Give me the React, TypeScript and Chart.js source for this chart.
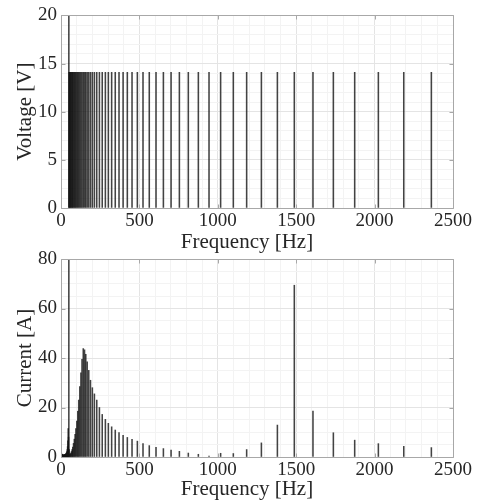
import React, { useEffect, useRef } from 'react';
import { Chart, registerables } from 'chart.js';

Chart.register(...registerables);

// ---------- data ----------
const fundamentalFreq = [50];
const fundamentalVoltage = [325];
const fundamentalCurrent = [120];

const harmonicFreq = [
  52, 55, 59, 63, 67, 71, 75, 80, 85, 90,
  95, 101, 107, 113, 120, 127, 134, 142, 150, 158,
  167, 177, 188, 200, 213, 228, 245, 263, 283, 302,
  323, 346, 370, 396, 423, 453, 487, 523, 563, 606,
  653, 702, 755, 812, 876, 944, 1018, 1099, 1184, 1278,
  1380, 1488, 1607, 1737, 1873, 2024, 2186, 2362,
];

const harmonicVoltage = [
  14.1, 14.1, 14.1, 14.1, 14.1, 14.1, 14.1, 14.1, 14.1, 14.1,
  14.1, 14.1, 14.1, 14.1, 14.1, 14.1, 14.1, 14.1, 14.1, 14.1,
  14.1, 14.1, 14.1, 14.1, 14.1, 14.1, 14.1, 14.1, 14.1, 14.1,
  14.1, 14.1, 14.1, 14.1, 14.1, 14.1, 14.1, 14.1, 14.1, 14.1,
  14.1, 14.1, 14.1, 14.1, 14.1, 14.1, 14.1, 14.1, 14.1, 14.1,
  14.1, 14.1, 14.1, 14.1, 14.1, 14.1, 14.1, 14.1,
];

const harmonicCurrent = [
  3.0, 1.0, 1.2, 1.6, 2.2, 3.0, 4.0, 5.5, 7.2, 9.2,
  11.5, 14.5, 18.5, 23.0, 28.5, 34.0, 39.5, 43.8, 43.3, 41.5,
  38.5, 35.0, 31.0, 28.0, 25.5, 23.0, 20.0, 17.2, 15.2, 13.6,
  12.2, 10.9, 9.9, 8.8, 7.9, 7.1, 6.4, 5.4, 4.6, 3.9,
  3.4, 2.8, 2.3, 1.6, 1.1, 0.4, 1.5, 1.4, 3.0, 5.7,
  12.9, 69.4, 18.6, 9.8, 6.8, 5.4, 4.3, 3.8,
];

const leakageFreq = [
  0, 2, 4, 6, 8, 10, 12, 14, 16, 18, 20, 22, 24,
  26, 28, 30, 32, 34, 36, 38, 40, 42, 44, 46, 48,
];
const leakageCurrent = [
  2.0, 1.6, 1.2, 1.0, 1.0, 0.9, 0.9, 0.8, 0.8, 0.8, 0.9, 0.9, 1.0,
  1.0, 1.1, 1.2, 1.3, 1.5, 1.8, 2.2, 3.0, 4.2, 6.5, 11.5, 8.0,
];

const freqMajorTicks = [0, 500, 1000, 1500, 2000, 2500];
const voltageMajorTicks = [0, 5, 10, 15, 20];
const currentMajorTicks = [0, 20, 40, 60, 80];

// ---------- styling ----------
const FONT = "'Liberation Serif', 'Times New Roman', serif";
const TEXT = '#262626';
const AXIS = '#a8a8a8';
const GRID_MAJOR = '#e4e4e4';
const GRID_MINOR = '#f3f3f3';
const STEM = 'rgba(20,20,20,0.8)';

const pts = (xs: number[], ys: number[]) => xs.map((x, i) => ({ x, y: ys[i] }));

interface PanelCfg {
  datasets: { x: number[]; y: number[] }[];
  yMax: number;
  yMinor: number;
  yMajor: number[];
  padTop: number;
  areaBottom: number;
  height: number;
  yTitle: string;
  xTitleBaseline: number;
}

function makeChart(canvas: HTMLCanvasElement, cfg: PanelCfg) {
  const framePlugin = {
    id: 'frame',
    afterDraw(chart: any) {
      const { ctx, chartArea: a, scales } = chart;
      const xs = scales.x;
      const ys = scales.y;
      const L = Math.round(a.left) + 0.5;
      const R = Math.round(a.right) + 0.5;
      const T = Math.round(a.top) + 0.5;
      const B = Math.round(a.bottom) + 0.5;
      ctx.save();
      ctx.strokeStyle = AXIS;
      ctx.lineWidth = 1;
      ctx.beginPath();
      ctx.moveTo(L, T); ctx.lineTo(R, T); ctx.lineTo(R, B); ctx.lineTo(L, B); ctx.closePath();
      const tl = 4;
      freqMajorTicks.forEach((v) => {
        const px = Math.round(xs.getPixelForValue(v)) + 0.5;
        ctx.moveTo(px, B); ctx.lineTo(px, B - tl);
        ctx.moveTo(px, T); ctx.lineTo(px, T + tl);
      });
      cfg.yMajor.forEach((v) => {
        const py = Math.round(ys.getPixelForValue(v)) + 0.5;
        ctx.moveTo(L, py); ctx.lineTo(L + tl, py);
        ctx.moveTo(R, py); ctx.lineTo(R - tl, py);
      });
      ctx.stroke();

      ctx.fillStyle = TEXT;
      ctx.font = `21px ${FONT}`;
      ctx.textAlign = 'center';
      ctx.textBaseline = 'alphabetic';
      ctx.fillText('Frequency [Hz]', 247, cfg.xTitleBaseline);
      ctx.translate(31, (a.top + a.bottom) / 2);
      ctx.rotate(-Math.PI / 2);
      ctx.fillText(cfg.yTitle, 0, 0);
      ctx.restore();
    },
  };

  return new Chart(canvas, {
    type: 'bar',
    data: {
      datasets: cfg.datasets.map((d) => ({
        data: pts(d.x, d.y),
        backgroundColor: STEM,
        borderWidth: 0,
        barThickness: 0.9,
        grouped: false,
      })) as any,
    },
    options: {
      responsive: false,
      animation: false,
      events: [],
      layout: { padding: { left: 0, right: 28, top: cfg.padTop, bottom: 0 } },
      plugins: { legend: { display: false }, tooltip: { enabled: false } },
      scales: {
        x: {
          type: 'linear',
          min: 0,
          max: 2500,
          offset: false,
          grid: {
            offset: false,
            drawTicks: false,
            color: (c: any) => (freqMajorTicks.includes(c.tick?.value) ? GRID_MAJOR : GRID_MINOR),
          },
          border: { display: false },
          ticks: {
            stepSize: 100,
            autoSkip: false,
            maxRotation: 0,
            padding: 2,
            color: TEXT,
            font: { family: FONT, size: 19 },
            callback: (v: any) => (freqMajorTicks.includes(Number(v)) ? String(v) : ''),
          },
          afterFit: (s: any) => {
            s.height = cfg.height - cfg.areaBottom;
          },
        },
        y: {
          type: 'linear',
          min: 0,
          max: cfg.yMax,
          grid: {
            drawTicks: false,
            color: (c: any) => (cfg.yMajor.includes(c.tick?.value) ? GRID_MAJOR : GRID_MINOR),
          },
          border: { display: false },
          ticks: {
            stepSize: cfg.yMinor,
            autoSkip: false,
            padding: 4,
            color: TEXT,
            font: { family: FONT, size: 19 },
            callback: (v: any) => (cfg.yMajor.includes(Number(v)) ? String(v) : ''),
          },
          afterFit: (s: any) => {
            s.width = 61;
          },
        },
      },
    } as any,
    plugins: [framePlugin],
  });
}

export default function App() {
  const topRef = useRef<HTMLCanvasElement>(null);
  const botRef = useRef<HTMLCanvasElement>(null);

  useEffect(() => {
    document.body.style.margin = '0';
    const c1 = makeChart(topRef.current!, {
      datasets: [
        { x: harmonicFreq, y: harmonicVoltage },
        { x: fundamentalFreq, y: fundamentalVoltage },
      ],
      yMax: 20,
      yMinor: 1,
      yMajor: voltageMajorTicks,
      padTop: 14,
      areaBottom: 208,
      height: 258,
      yTitle: 'Voltage [V]',
      xTitleBaseline: 248,
    });
    const c2 = makeChart(botRef.current!, {
      datasets: [
        { x: leakageFreq, y: leakageCurrent },
        { x: harmonicFreq, y: harmonicCurrent },
        { x: fundamentalFreq, y: fundamentalCurrent },
      ],
      yMax: 80,
      yMinor: 5,
      yMajor: currentMajorTicks,
      padTop: 19,
      areaBottom: 217,
      height: 263,
      yTitle: 'Current [A]',
      xTitleBaseline: 255,
    });
    return () => {
      c1.destroy();
      c2.destroy();
    };
  }, []);

  return (
    <div style={{ position: 'relative', width: 481, height: 503, background: '#fff' }}>
      <canvas ref={topRef} width={481} height={258} style={{ position: 'absolute', left: 0, top: 0 }} />
      <canvas ref={botRef} width={481} height={263} style={{ position: 'absolute', left: 0, top: 240 }} />
    </div>
  );
}
